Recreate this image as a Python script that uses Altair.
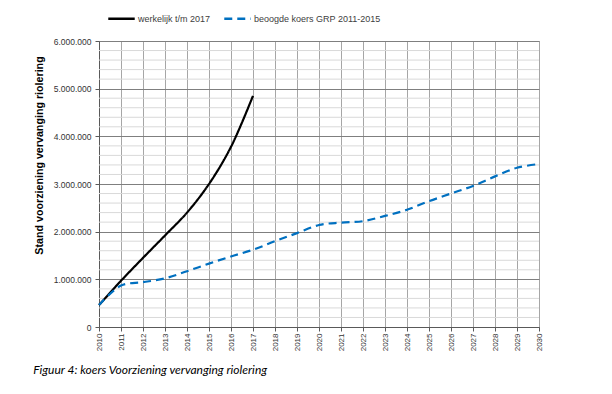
import altair as alt
import pandas as pd

years_actual = [2010, 2011, 2012, 2013, 2014, 2015, 2016, 2017]
values_actual = [460000, 970000, 1450000, 1920000, 2400000, 3000000, 3780000, 4850000]

years_target = list(range(2010, 2031))
values_target = [460000, 870000, 940000, 1020000, 1170000, 1330000, 1480000, 1620000,
                 1800000, 1970000, 2140000, 2190000, 2220000, 2330000, 2460000, 2640000,
                 2800000, 2960000, 3160000, 3340000, 3420000]

series_names = ["werkelijk t/m 2017", "beoogde koers GRP 2011-2015"]
minor_grid = [v * 200000 for v in range(1, 30) if v % 5 != 0]
major_ticks = [0, 1000000, 2000000, 3000000, 4000000, 5000000, 6000000]
year_ticks = list(range(2010, 2031))

df = pd.concat([
    pd.DataFrame({"jaar": years_actual, "waarde": values_actual, "reeks": series_names[0]}),
    pd.DataFrame({"jaar": years_target, "waarde": values_target, "reeks": series_names[1]}),
])
grid_df = pd.DataFrame({"waarde": minor_grid})

FONT = "Liberation Sans"

xscale = alt.Scale(domain=[2010, 2030], nice=False, zero=False)
yscale = alt.Scale(domain=[0, 6000000], nice=False)

yaxis = alt.Axis(values=major_ticks, grid=True, gridColor="#7f7f7f", gridWidth=1,
                 labelExpr="replace(format(datum.value, ','), regexp(',', 'g'), '.')",
                 labelFont=FONT, labelFontSize=8.5, labelColor="#333333",
                 tickColor="#595959", tickSize=4, domainColor="#595959",
                 labelPadding=4, titleFont=FONT, titleFontSize=10.7,
                 titleFontWeight="bold", titleColor="#000000", titlePadding=9,
                 titleY=114)
ytitle = "Stand voorziening vervanging riolering"

minor = alt.Chart(grid_df).mark_rule(color="#d9d9d9", strokeWidth=1).encode(
    y=alt.Y("waarde:Q", scale=yscale, title=ytitle, axis=yaxis)
)

lines = alt.Chart(df).mark_line(interpolate="catmull-rom", strokeWidth=2.2).encode(
    x=alt.X("jaar:Q", scale=xscale, title=None,
            axis=alt.Axis(values=year_ticks, format="d", labelAngle=270, grid=True,
                          gridColor="#a6a6a6", gridWidth=1, labelFont=FONT, labelFontSize=8,
                          labelColor="#333333", tickColor="#595959", tickSize=4,
                          domainColor="#595959", labelPadding=2)),
    y=alt.Y("waarde:Q", scale=yscale, title=ytitle, axis=yaxis),
    color=alt.Color("reeks:N", scale=alt.Scale(domain=series_names, range=["#000000", "#0070c0"]),
                    legend=alt.Legend(title=None, orient="none", legendX=8, legendY=-37,
                                      direction="horizontal", symbolType="stroke",
                                      symbolSize=700, symbolStrokeWidth=2.5,
                                      labelFont=FONT, labelFontSize=9, labelColor="#404040",
                                      columnPadding=8, labelOffset=2)),
    strokeDash=alt.StrokeDash("reeks:N", scale=alt.Scale(domain=series_names, range=[[1, 0], [8, 5]]),
                              legend=None),
)

chart = alt.layer(minor, lines).properties(
    width=440, height=286,
    autosize=alt.AutoSizeParams(type="none"),
    padding={"left": 91, "top": 33, "right": 64, "bottom": 60},
    title=alt.TitleParams("Figuur 4: koers Voorziening vervanging riolering", orient="bottom",
                          anchor="start", frame="bounds", font="Lato", fontSize=12,
                          fontStyle="italic", fontWeight="normal", color="#000000",
                          dx=0, offset=14),
).configure_view(stroke="#a6a6a6")

chart.save("out.html", embed_options={"renderer": "svg", "actions": False})
